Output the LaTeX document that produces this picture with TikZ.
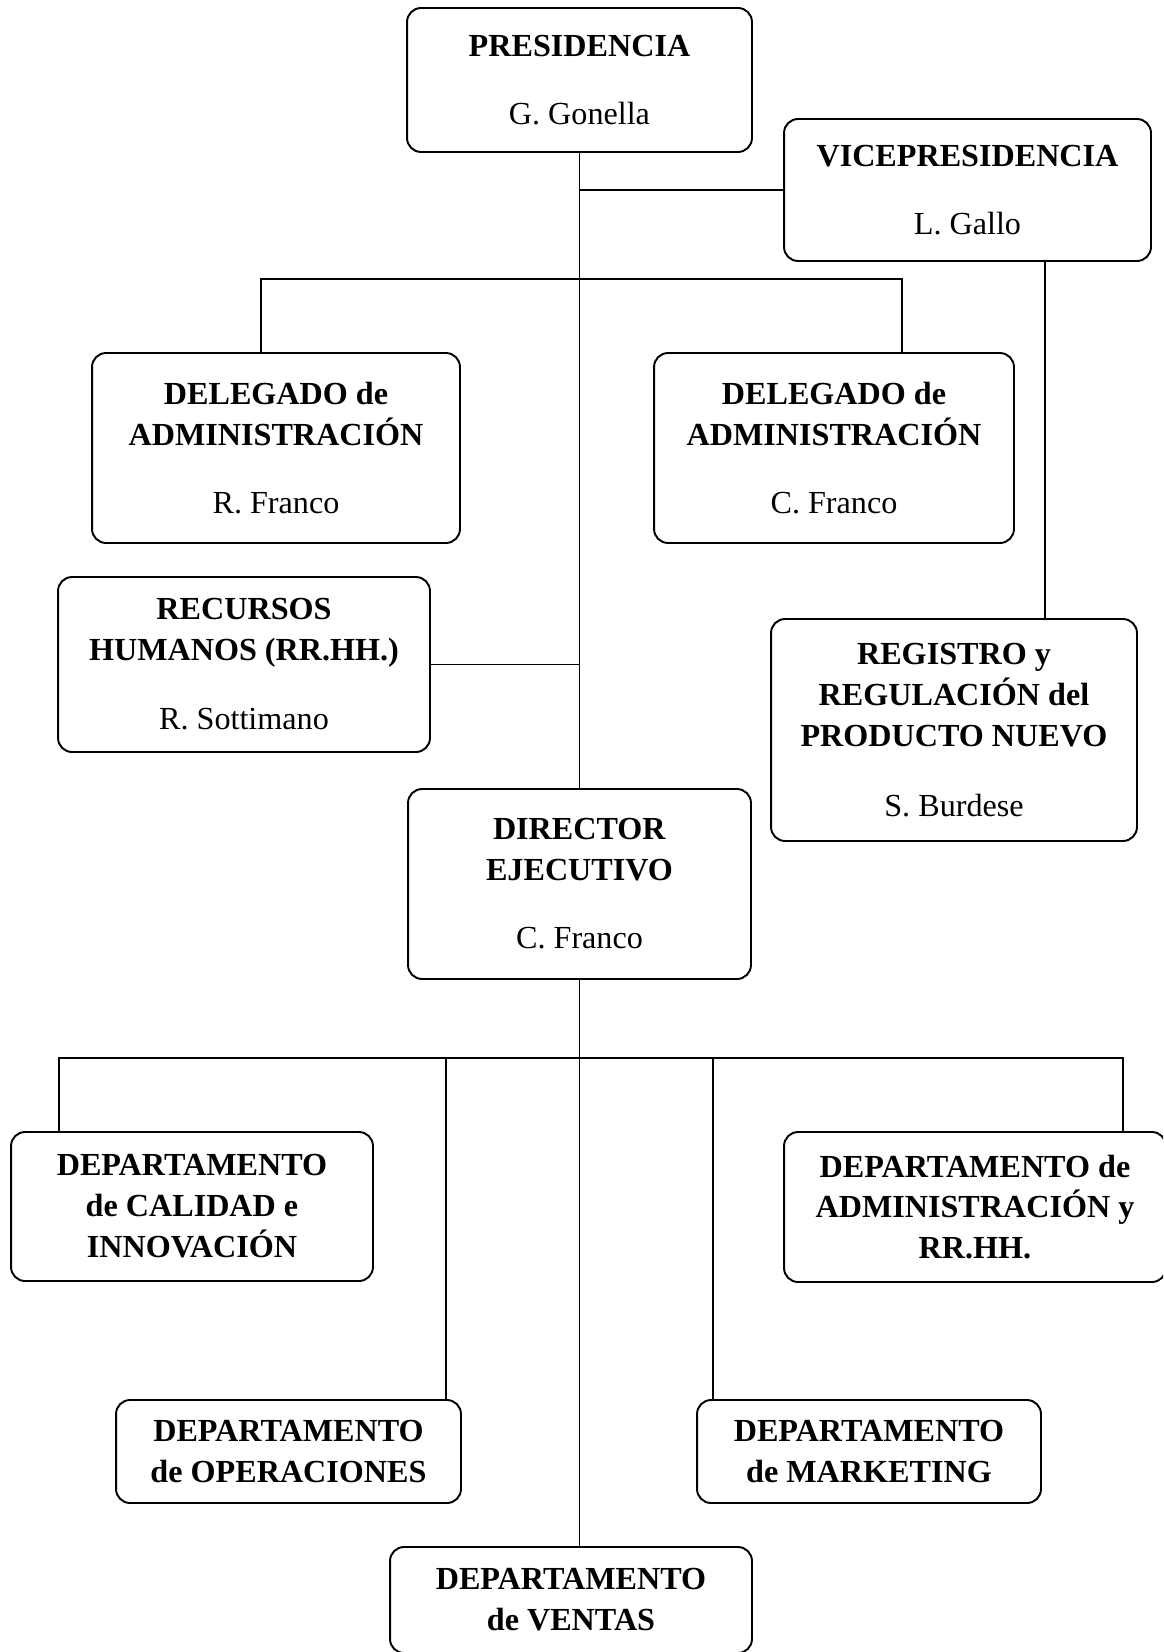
\documentclass[tikz,border=0pt]{standalone}
\usepackage{fontspec}
\setmainfont{Liberation Serif}
\begin{document}
\begin{tikzpicture}[x=0.02cm,y=-0.02cm,
    caja/.style={draw,rounded corners=0.28cm,line width=1.1pt,align=center,inner sep=0pt,
      font=\fontsize{18.3}{23.3}\selectfont},
    linea/.style={line width=1.1pt}]
\useasboundingbox (0,0) rectangle (1163,1652);
\clip (0,0) rectangle (1163,1652);
\node[caja,minimum width=6.9cm,minimum height=2.88cm] (pres) at (579.5,80)
    {\textbf{PRESIDENCIA}\\[0.54cm] G. Gonella};
\node[caja,minimum width=7.34cm,minimum height=2.84cm] (vp) at (967.5,190)
    {\textbf{VICEPRESIDENCIA}\\[0.54cm] L. Gallo};
\node[caja,minimum width=7.36cm,minimum height=3.8cm] (del1) at (276,448)
    {\textbf{DELEGADO de}\\ \textbf{ADMINISTRACIÓN}\\[0.54cm] R. Franco};
\node[caja,minimum width=7.2cm,minimum height=3.8cm] (del2) at (834,448)
    {\textbf{DELEGADO de}\\ \textbf{ADMINISTRACIÓN}\\[0.54cm] C. Franco};
\node[caja,minimum width=7.44cm,minimum height=3.5cm] (rrhh) at (244,664.5)
    {\textbf{RECURSOS}\\ \textbf{HUMANOS (RR.HH.)}\\[0.56cm] R. Sottimano};
\node[caja,minimum width=7.32cm,minimum height=4.44cm] (reg) at (954,730)
    {\textbf{REGISTRO y}\\ \textbf{REGULACIÓN del}\\ \textbf{PRODUCTO NUEVO}\\[0.58cm] S. Burdese};
\node[caja,minimum width=6.86cm,minimum height=3.8cm] (dir) at (579.5,884)
    {\textbf{DIRECTOR}\\ \textbf{EJECUTIVO}\\[0.54cm] C. Franco};
\node[caja,minimum width=7.24cm,minimum height=2.98cm] (cal) at (192,1206.5)
    {\textbf{DEPARTAMENTO}\\ \textbf{de CALIDAD e}\\ \textbf{INNOVACIÓN}};
\node[caja,minimum width=7.64cm,minimum height=3cm] (adm) at (975,1207)
    {\textbf{DEPARTAMENTO de}\\ \textbf{ADMINISTRACIÓN y}\\ \textbf{RR.HH.}};
\node[caja,minimum width=6.9cm,minimum height=2.06cm] (ope) at (288.5,1451.5)
    {\textbf{DEPARTAMENTO}\\ \textbf{de OPERACIONES}};
\node[caja,minimum width=6.88cm,minimum height=2.06cm] (mkt) at (869,1451.5)
    {\textbf{DEPARTAMENTO}\\ \textbf{de MARKETING}};
\node[caja,minimum width=7.24cm,minimum height=2.12cm] (vent) at (571,1600)
    {\textbf{DEPARTAMENTO}\\ \textbf{de VENTAS}};

\coordinate (b1) at (261,279);
\coordinate (b2) at (902,279);
\coordinate (v1) at (1045,261);
\coordinate (d1) at (59,1058);
\coordinate (d2) at (446,1058);
\coordinate (d3) at (713,1058);
\coordinate (d4) at (1123,1058);

\draw[linea] (pres.south) -- (dir.north);
\draw[linea] (vp.west) -- (vp.west -| pres.south);
\draw[linea] (del1.north -| b1) -- (b1) -- (b2) -- (del2.north -| b2);
\draw[linea] (vp.south -| v1) -- (reg.north -| v1);
\draw[linea] (rrhh.east) -- (rrhh.east -| pres.south);
\draw[linea] (dir.south) -- (dir.south |- vent.north);
\draw[linea] (cal.north -| d1) -- (d1) -- (d4) -- (adm.north -| d4);
\draw[linea] (ope.north -| d2) -- (d2);
\draw[linea] (mkt.north -| d3) -- (d3);
\end{tikzpicture}
\end{document}
